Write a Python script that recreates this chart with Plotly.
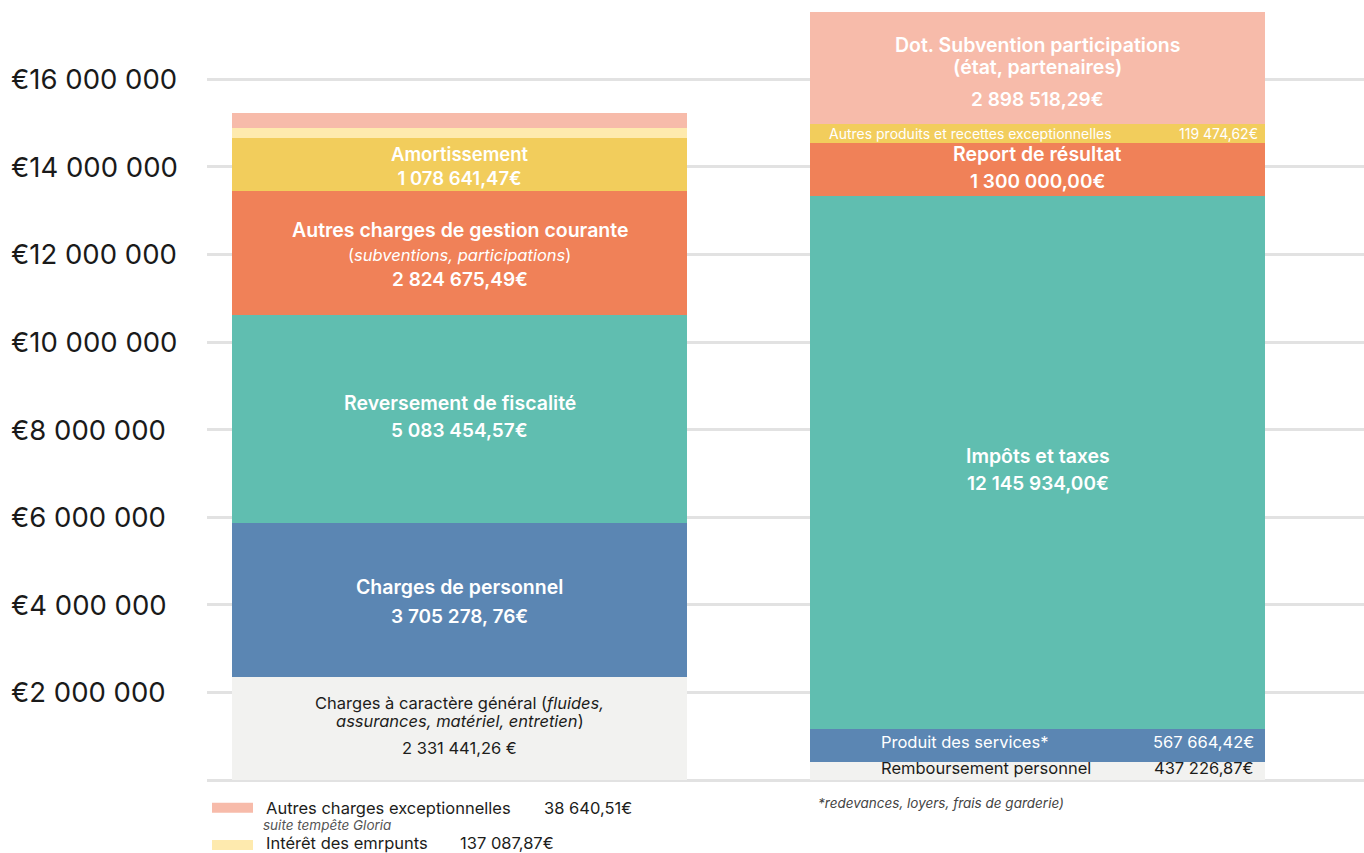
import plotly.graph_objects as go

# ---------------- data ----------------
columns = ["Dépenses", "Recettes"]

left_names = ["Charges à caractère général", "Charges de personnel", "Reversement de fiscalité",
              "Autres charges de gestion courante", "Amortissement", "Intérêt des emrpunts",
              "Autres charges exceptionnelles"]
# heights as drawn in the picture (euros)
left_heights = [2358000, 3516000, 4742000, 2838000, 1203000, 228000, 349000]
left_values_txt = ["2 331 441,26 €", "3 705 278, 76€", "5 083 454,57€", "2 824 675,49€",
                   "1 078 641,47€", "137 087,87€", "38 640,51€"]
left_colors = ["#F2F2F0", "#5B86B3", "#60BEB0", "#F08158", "#F2CD5C", "#FEEAAE", "#F7BBAA"]

right_names = ["Remboursement personnel", "Produit des services*", "Impôts et taxes",
               "Report de résultat", "Autres produits et recettes exceptionnelles",
               "Dot. Subvention participations"]
right_heights = [404000, 760000, 12176000, 1203000, 434000, 2557000]
right_values_txt = ["437 226,87€", "567 664,42€", "12 145 934,00€", "1 300 000,00€",
                    "119 474,62€", "2 898 518,29€"]
right_colors = ["#F2F2F0", "#5B86B3", "#60BEB0", "#F08158", "#F2CD5C", "#F7BBAA"]

tick_vals = [2000000, 4000000, 6000000, 8000000, 10000000, 12000000, 14000000, 16000000]
tick_text = ["€2 000 000", "€4 000 000", "€6 000 000", "€8 000 000", "€10 000 000",
             "€12 000 000", "€14 000 000", "€16 000 000"]
grid_vals = [0] + tick_vals

# ---------------- layout constants ----------------
W, H = 1364, 853
ML, MB = 207, 68
PLOT_H = H - MB          # 785
PX_PER_EUR = 43.8 / 1e6
Y_MIN = -5 / PX_PER_EUR
Y_MAX = (PLOT_H - 5) / PX_PER_EUR
FONT = "Inter"
DARK = "#1d1d1b"
WHITE = "#ffffff"
NB = 19.5   # semibold name size
VB = 19     # semibold value size
SEMI = 600

def py_to_paper(py):
    return (PLOT_H - py) / PLOT_H

def px_to_paper(px):
    return (px - ML) / (W - ML)

fig = go.Figure()
for name, h, c in zip(left_names, left_heights, left_colors):
    fig.add_trace(go.Bar(x=[columns[0]], y=[h], name=name, marker=dict(color=c, line=dict(width=0)),
                         width=0.787, hoverinfo="name+y"))
for name, h, c in zip(right_names, right_heights, right_colors):
    fig.add_trace(go.Bar(x=[columns[1]], y=[h], name=name, marker=dict(color=c, line=dict(width=0)),
                         width=0.787, hoverinfo="name+y"))

annotations = []

def seg_center(heights, i):
    return sum(heights[:i]) + heights[i] / 2

def add_lines(col, heights, i, lines):
    yc = seg_center(heights, i)
    for text, dy, size, color, weight, xanchor, xshift in lines:
        annotations.append(dict(x=col, y=yc, xref="x", yref="y", text=text, showarrow=False,
                                xanchor=xanchor, yanchor="middle", xshift=xshift, yshift=-dy,
                                borderpad=0,
                                font=dict(family=FONT, size=size, color=color, weight=weight)))

# left column
add_lines(columns[0], left_heights, 0, [
    ("Charges à caractère général (<i>fluides,</i>", -25.4, 16.5, DARK, 400, "center", 0),
    ("<i>assurances, matériel, entretien</i>)", -6.9, 16.5, DARK, 400, "center", 0),
    (left_values_txt[0], 19.6, 16.5, DARK, 400, "center", 0)])
add_lines(columns[0], left_heights, 1, [
    (left_names[1], -12.7, NB, WHITE, SEMI, "center", 0),
    (left_values_txt[1], 16.3, VB, WHITE, SEMI, "center", 0)])
add_lines(columns[0], left_heights, 2, [
    (left_names[2], -15.9, NB, WHITE, SEMI, "center", 0),
    (left_values_txt[2], 11.2, VB, WHITE, SEMI, "center", 0)])
add_lines(columns[0], left_heights, 3, [
    (left_names[3], -22.4, NB, WHITE, SEMI, "center", 0),
    ("(<i>subventions, participations</i>)", 2.2, 16.5, WHITE, 400, "center", 0),
    (left_values_txt[3], 26.9, VB, WHITE, SEMI, "center", 0)])
add_lines(columns[0], left_heights, 4, [
    (left_names[4] + "<br>" + left_values_txt[4], 1.5, 18.5, WHITE, SEMI, "center", 0)])

# right column
add_lines(columns[1], right_heights, 0, [
    (right_names[0], -2.7, 16.5, DARK, 400, "left", -157.5),
    (right_values_txt[0], -2.7, 16.5, DARK, 400, "right", 217.5)])
add_lines(columns[1], right_heights, 1, [
    (right_names[1], -3.2, 16.5, WHITE, 400, "left", -157.5),
    (right_values_txt[1], -3.2, 16.5, WHITE, 400, "right", 217.5)])
add_lines(columns[1], right_heights, 2, [
    (right_names[2], -6.4, NB, WHITE, SEMI, "center", 0),
    (right_values_txt[2], 20.7, VB, WHITE, SEMI, "center", 0)])
add_lines(columns[1], right_heights, 3, [
    (right_names[3], -14.9, NB, WHITE, SEMI, "center", 0),
    (right_values_txt[3], 11.7, VB, WHITE, SEMI, "center", 0)])
add_lines(columns[1], right_heights, 4, [
    (right_names[4], -0.5, 14, WHITE, 400, "left", -209.5),
    (right_values_txt[4], -0.5, 14, WHITE, 400, "right", 221.5)])
add_lines(columns[1], right_heights, 5, [
    (right_names[5], -23.5, NB, WHITE, SEMI, "center", 0),
    ("(état, partenaires)", -1.0, NB, WHITE, SEMI, "center", 0),
    (right_values_txt[5], 31.0, VB, WHITE, SEMI, "center", 0)])

# y tick labels (left aligned)
for v, t in zip(tick_vals, tick_text):
    annotations.append(dict(x=px_to_paper(10), y=v, xref="paper", yref="y", text=t, showarrow=False,
                            xanchor="left", yanchor="middle", borderpad=0,
                            font=dict(family=FONT, size=27.5, color="#1a1a1a")))

# footnote
annotations.append(dict(x=px_to_paper(817), y=py_to_paper(802.5), xref="paper", yref="paper",
                        text="<i>*redevances, loyers, frais de garderie)</i>", showarrow=False,
                        xanchor="left", yanchor="middle", borderpad=0,
                        font=dict(family=FONT, size=13.5, color="#444444")))

# small-item legend below the left column
shapes = []
legend_items = [
    (6, 807.7, 807.5, 542.7),   # index into left arrays, swatch center y, text y, value x
    (5, 845.0, 842.5, 459.0),
]
for idx, sy, ty, vx in legend_items:
    shapes.append(dict(type="rect", xref="paper", yref="paper",
                       x0=px_to_paper(212), x1=px_to_paper(253),
                       y0=py_to_paper(sy - 5), y1=py_to_paper(sy + 5),
                       fillcolor=left_colors[idx], line=dict(width=0)))
    annotations.append(dict(x=px_to_paper(265), y=py_to_paper(ty), xref="paper", yref="paper",
                            text=left_names[idx], showarrow=False, xanchor="left", yanchor="middle",
                            borderpad=0, font=dict(family=FONT, size=16.5, color=DARK)))
    annotations.append(dict(x=px_to_paper(vx), y=py_to_paper(ty), xref="paper", yref="paper",
                            text=left_values_txt[idx], showarrow=False, xanchor="left", yanchor="middle",
                            borderpad=0, font=dict(family=FONT, size=16.5, color=DARK)))
annotations.append(dict(x=px_to_paper(262), y=py_to_paper(824.5), xref="paper", yref="paper",
                        text="<i>suite tempête Gloria</i>", showarrow=False, xanchor="left",
                        yanchor="middle", borderpad=0,
                        font=dict(family=FONT, size=13.5, color="#555555")))

fig.update_layout(
    width=W, height=H,
    margin=dict(l=ML, r=0, t=0, b=MB, pad=0),
    paper_bgcolor="white", plot_bgcolor="white",
    barmode="stack", bargap=0, showlegend=False,
    font=dict(family=FONT),
    xaxis=dict(type="category", categoryorder="array", categoryarray=columns,
               range=[-0.4369, 1.5649], showticklabels=False, showgrid=False,
               zeroline=False, showline=False, ticks="", fixedrange=True),
    yaxis=dict(range=[Y_MIN, Y_MAX], tickvals=grid_vals, showticklabels=False,
               showgrid=True, gridcolor="#E2E2E2", gridwidth=3, zeroline=False,
               showline=False, ticks="", fixedrange=True),
    annotations=annotations, shapes=shapes,
)

fig.write_html("out.html", config={"displayModeBar": False},
               post_script="document.body.style.margin='0';")
